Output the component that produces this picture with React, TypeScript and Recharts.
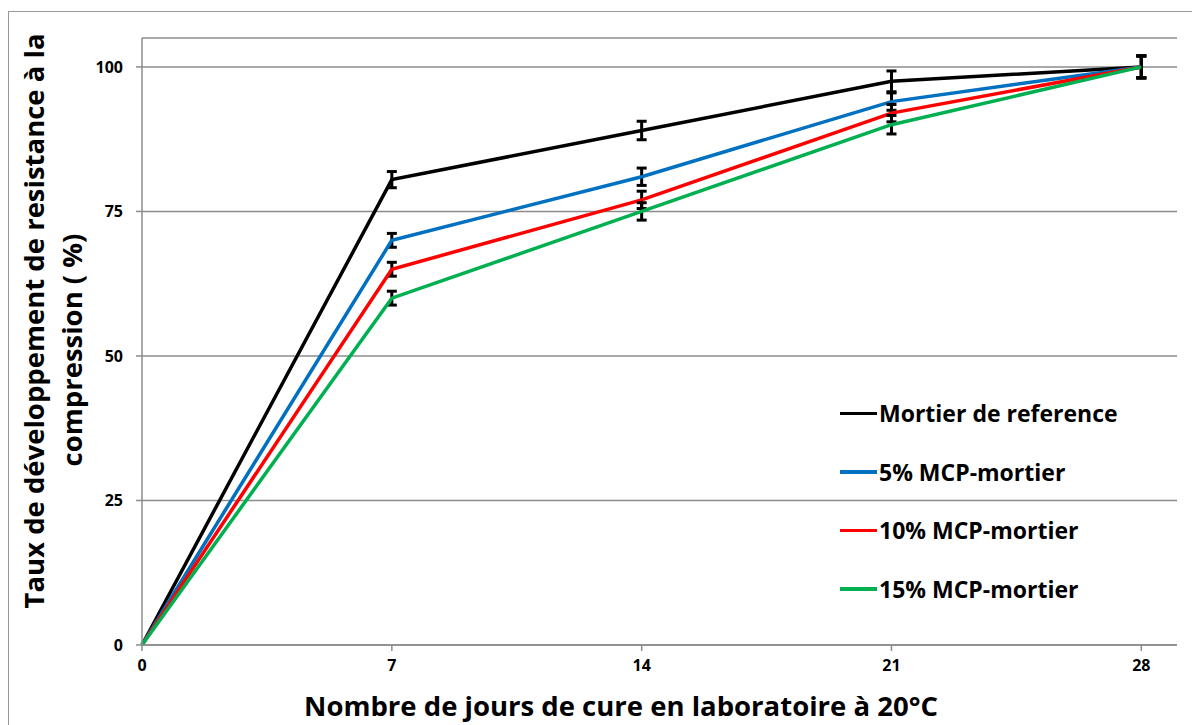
import React from "react";
import { LineChart, Line, XAxis, YAxis, CartesianGrid, ErrorBar, Label } from "recharts";

const days = [0, 7, 14, 21, 28];
const refValues = [0, 80.5, 89, 97.5, 100];
const refErrors = [0, 1.4, 1.6, 1.8, 1.9];
const p5Values = [0, 70, 81, 94, 100];
const p5Errors = [0, 1.2, 1.5, 1.5, 1.9];
const p10Values = [0, 65, 77, 92, 100];
const p10Errors = [0, 1.2, 1.5, 1.5, 1.9];
const p15Values = [0, 60, 75, 90, 100];
const p15Errors = [0, 1.2, 1.5, 1.6, 1.9];
const xTicks = [0, 7, 14, 21, 28];
const yTicks = [0, 25, 50, 75, 100];

const seriesNames = ["Mortier de reference", "5% MCP-mortier", "10% MCP-mortier", "15% MCP-mortier"];
const seriesKeys = ["ref", "p5", "p10", "p15"];
const seriesColors = ["#000000", "#0070C0", "#FF0000", "#00B050"];

const data = days.map((d, i) => ({
  day: d,
  ref: refValues[i], refErr: refErrors[i],
  p5: p5Values[i], p5Err: p5Errors[i],
  p10: p10Values[i], p10Err: p10Errors[i],
  p15: p15Values[i], p15Err: p15Errors[i],
}));

const FONT = "'Open Sans', Lato, sans-serif";

const YTitle = () => (
  <g>
    <text transform="translate(44,321) rotate(-90)" textAnchor="middle" fontFamily={FONT} fontWeight={700} fontSize={27.5} fill="#000">
      Taux de développement de resistance à la
    </text>
    <text transform="translate(82,350) rotate(-90)" textAnchor="middle" fontFamily={FONT} fontWeight={700} fontSize={27.5} fill="#000">
      compression  ( %)
    </text>
  </g>
);

const XTitle = () => (
  <text x={621} y={716} textAnchor="middle" fontFamily={FONT} fontWeight={700} fontSize={27.5} fill="#000">
    Nombre de jours de cure en laboratoire à 20°C
  </text>
);

export default function App() {
  return (
    <div style={{ position: "absolute", left: 0, top: 0, width: 1192, height: 725, background: "#fff", overflow: "hidden" }}>
      <div style={{ position: "absolute", left: 8, top: 11, width: 1300, height: 800, borderLeft: "1.5px solid #999", borderTop: "1.5px solid #999" }} />
      <div style={{ position: "absolute", left: 0, top: 0 }}>
        <LineChart width={1192} height={725} data={data} margin={{ top: 38, right: 15, bottom: 0, left: 0 }}>
          <CartesianGrid vertical={false} stroke="#8c8c8c" strokeWidth={1.5} />
          <XAxis
            dataKey="day"
            type="number"
            domain={[0, 29]}
            ticks={xTicks}
            height={80}
            tickSize={6}
            tickMargin={9}
            stroke="#8c8c8c"
            strokeWidth={1.5}
            tick={{ fill: "#000", fontSize: 16, fontWeight: 700, fontFamily: FONT }}
          >
            <Label content={() => <XTitle />} />
          </XAxis>
          <YAxis
            type="number"
            domain={[0, 105]}
            ticks={yTicks}
            width={142}
            tickSize={6}
            tickMargin={13}
            stroke="#8c8c8c"
            strokeWidth={1.5}
            tick={{ fill: "#000", fontSize: 16, fontWeight: 700, fontFamily: FONT }}
          >
            <Label content={() => <YTitle />} />
          </YAxis>
          {seriesKeys.map((k, i) => (
            <Line
              key={k}
              dataKey={k}
              name={seriesNames[i]}
              stroke={seriesColors[i]}
              strokeWidth={3.5}
              dot={false}
              isAnimationActive={false}
            >
              <ErrorBar dataKey={`${k}Err`} direction="y" width={5} stroke="#000" strokeWidth={3} />
            </Line>
          ))}
        </LineChart>
      </div>
      <div style={{ position: "absolute", left: 840, top: 384, fontFamily: FONT, fontWeight: 700, fontSize: 23, color: "#000" }}>
        {seriesNames.map((n, i) => (
          <div key={n} style={{ display: "flex", alignItems: "center", height: 58.5 }}>
            <div style={{ width: 37, height: 3.5, background: seriesColors[i], marginRight: 2 }} />
            <span>{n}</span>
          </div>
        ))}
      </div>
    </div>
  );
}
